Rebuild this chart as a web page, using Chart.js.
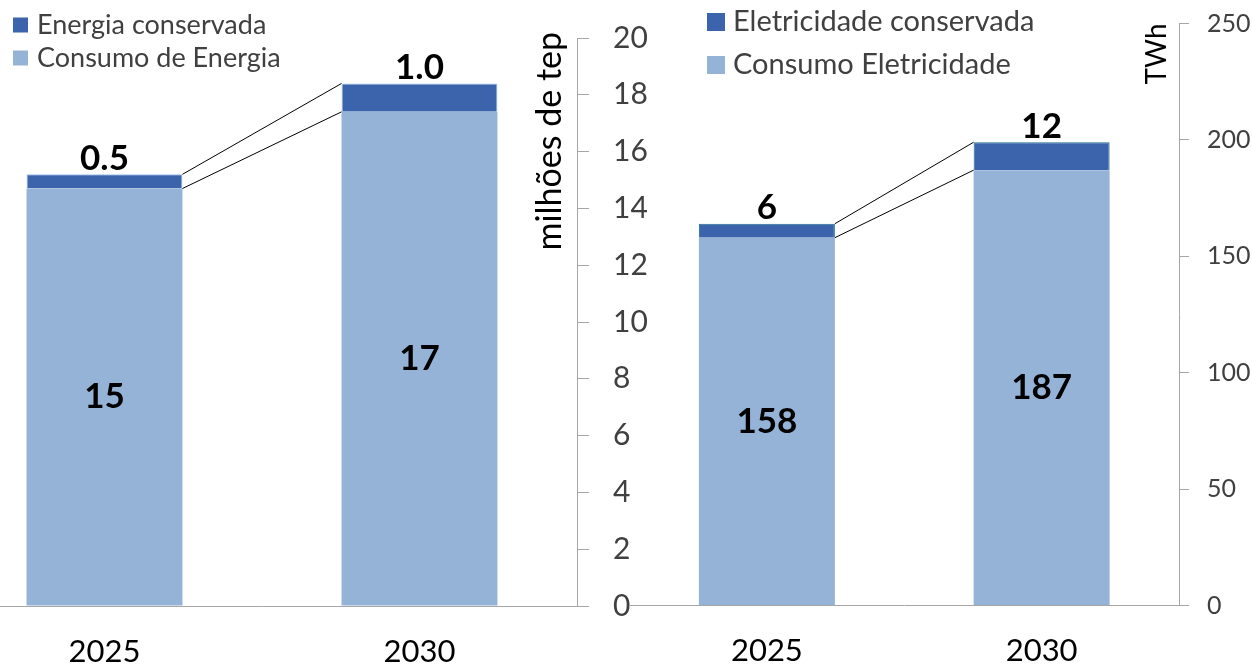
<!DOCTYPE html>
<html>
<head>
<meta charset="utf-8">
<script src="https://cdn.jsdelivr.net/npm/chart.js@4.4.1/dist/chart.umd.min.js"></script>
<style>
html, body { margin: 0; padding: 0; background: #fff; overflow: hidden; width: 1252px; height: 669px; position: relative; }
.box { position: absolute; top: 0; height: 669px; }
#boxEnergia { left: -53px; width: 700px; }
#boxEletricidade { left: 600px; width: 652px; }
</style>
</head>
<body>
<div class="box" id="boxEnergia"><canvas id="energia"></canvas></div>
<div class="box" id="boxEletricidade"><canvas id="eletricidade"></canvas></div>
<script>
'use strict';

// anos
const anos = ['2025', '2030'];

// energia (milhões de tep)
const consumoEnergia = [14.7, 17.4];
const energiaConservada = [0.5, 1.0];
const ticksEnergia = [0, 2, 4, 6, 8, 10, 12, 14, 16, 18, 20];

// eletricidade (TWh)
const consumoEletricidade = [158, 187];
const eletricidadeConservada = [6, 12];
const ticksEletricidade = [0, 50, 100, 150, 200, 250];

const AZUL_CLARO = '#95B3D7';
const AZUL_ESCURO = '#3C64AC';
const CINZA_EIXO = '#A6A6A6';
const FONTE = 'Lato, sans-serif';

/**
 * Linhas de série: ligam o topo de cada segmento entre as barras
 */
const linhasSerie = {
    id: 'linhasSerie',
    afterDatasetsDraw(chart) {
        const ctx = chart.ctx;
        ctx.save();
        ctx.strokeStyle = '#000';
        ctx.lineWidth = 1;
        chart.data.datasets.forEach((ds, i) => {
            const bars = chart.getDatasetMeta(i).data;
            for (let j = 0; j < bars.length - 1; j++) {
                const a = bars[j];
                const b = bars[j + 1];
                ctx.beginPath();
                ctx.moveTo(a.x + a.width / 2, a.y);
                ctx.lineTo(b.x - b.width / 2, b.y);
                ctx.stroke();
            }
        });
        ctx.restore();
    }
};

/**
 * Rótulos de valor: consumo no meio da barra, conservada em cima
 */
const rotulos = {
    id: 'rotulos',
    afterDatasetsDraw(chart, args, opts) {
        const ctx = chart.ctx;
        ctx.save();
        ctx.font = 'bold 35px ' + FONTE;
        ctx.fillStyle = '#000';
        ctx.textAlign = 'center';
        ctx.textBaseline = 'middle';
        chart.data.datasets.forEach((ds, i) => {
            chart.getDatasetMeta(i).data.forEach((bar, j) => {
                let txt = ds.formato(ds.data[j]);
                let y = i === 0 ? (bar.y + bar.base) / 2 : bar.y - opts.acima;
                ctx.fillText(txt, bar.x, y);
            });
        });
        ctx.restore();
    }
};

/**
 * Legenda desenhada no canvas (série de cima primeiro)
 */
const legenda = {
    id: 'legenda',
    afterDraw(chart, args, opts) {
        const ctx = chart.ctx;
        ctx.save();
        ctx.font = opts.fonte + 'px ' + FONTE;
        ctx.textBaseline = 'middle';
        ctx.textAlign = 'left';
        let ds = chart.data.datasets.slice().reverse();
        ds.forEach((d, k) => {
            let y = opts.y + k * opts.passo;
            ctx.fillStyle = d.backgroundColor;
            ctx.fillRect(opts.x, y - opts.lado / 2, opts.lado, opts.lado);
            ctx.fillStyle = '#404040';
            ctx.fillText(d.label, opts.x + opts.lado + opts.gap, y);
        });
        ctx.restore();
    }
};

/**
 * Título do eixo, rodado, à esquerda da linha do eixo
 */
const tituloEixo = {
    id: 'tituloEixo',
    afterDraw(chart, args, opts) {
        const ctx = chart.ctx;
        const eixo = chart.scales.y;
        ctx.save();
        ctx.font = opts.fonte + 'px ' + FONTE;
        ctx.fillStyle = '#000';
        ctx.translate(eixo.left - opts.dx, chart.chartArea.top + opts.dy);
        ctx.rotate(-Math.PI / 2);
        ctx.textAlign = 'right';
        ctx.textBaseline = 'middle';
        ctx.fillText(opts.texto, 0, 0);
        ctx.restore();
    }
};

function criarGrafico(id, cfg) {
    const ctx = document.getElementById(id).getContext('2d');
    return new Chart(ctx, {
        type: 'bar',
        data: {
            labels: anos,
            datasets: [
                {
                    label: cfg.nomes[0],
                    data: cfg.consumo,
                    backgroundColor: AZUL_CLARO,
                    borderWidth: 0,
                    formato: v => Math.round(v).toString()
                },
                {
                    label: cfg.nomes[1],
                    data: cfg.conservada,
                    backgroundColor: AZUL_ESCURO,
                    borderColor: cfg.bordaEscura,
                    borderWidth: 1,
                    formato: cfg.formatoConservada
                }
            ]
        },
        options: {
            responsive: true,
            maintainAspectRatio: false,
            animation: false,
            categoryPercentage: 1,
            barPercentage: 0.495,
            layout: { padding: cfg.padding },
            scales: {
                x: {
                    stacked: true,
                    grid: { display: false, drawTicks: false },
                    border: { color: CINZA_EIXO, width: 1 },
                    ticks: { color: '#000', font: { family: FONTE, size: 31 }, padding: 27 },
                    afterFit: s => {
                        s.height = cfg.alturaX;
                        s.paddingLeft = 0;
                        s.paddingRight = 0;
                    }
                },
                y: {
                    position: 'right',
                    stacked: true,
                    min: 0,
                    max: cfg.ticks[cfg.ticks.length - 1],
                    grid: { drawOnChartArea: false, tickLength: cfg.tickLen, color: CINZA_EIXO },
                    border: { color: CINZA_EIXO, width: 1 },
                    ticks: { color: '#404040', font: { family: FONTE, size: cfg.fonteTicks }, padding: cfg.padTicks },
                    afterBuildTicks: s => { s.ticks = cfg.ticks.map(v => ({ value: v })); },
                    afterFit: s => {
                        s.width = cfg.larguraY;
                        s.paddingTop = 0;
                        s.paddingBottom = 0;
                    }
                }
            },
            plugins: {
                legend: { display: false },
                tooltip: { enabled: false },
                rotulos: { acima: 16 },
                legenda: cfg.legenda,
                tituloEixo: cfg.titulo
            }
        },
        plugins: [linhasSerie, rotulos, legenda, tituloEixo]
    });
}

criarGrafico('energia', {
    nomes: ['Consumo de Energia', 'Energia conservada'],
    consumo: consumoEnergia,
    conservada: energiaConservada,
    ticks: ticksEnergia,
    bordaEscura: '#9DC3E6',
    formatoConservada: v => v.toFixed(1),
    padding: { top: 38, left: 0, right: 0, bottom: 0 },
    alturaX: 63,
    larguraY: 70,
    tickLen: 12,
    fonteTicks: 30,
    padTicks: 24,
    legenda: { x: 66, y: 25, passo: 33, lado: 15, gap: 9, fonte: 27 },
    titulo: { texto: 'milhões de tep', dx: 27, dy: -6, fonte: 34 }
});

criarGrafico('eletricidade', {
    nomes: ['Consumo Eletricidade', 'Eletricidade conservada'],
    consumo: consumoEletricidade,
    conservada: eletricidadeConservada,
    ticks: ticksEletricidade,
    bordaEscura: '#1F6E8C',
    formatoConservada: v => Math.round(v).toString(),
    padding: { top: 23.5, left: 29.5, right: 0, bottom: 0 },
    alturaX: 63.5,
    larguraY: 73,
    tickLen: 10,
    fonteTicks: 25,
    padTicks: 18,
    legenda: { x: 107, y: 22, passo: 43, lado: 18, gap: 8, fonte: 29 },
    titulo: { texto: 'TWh', dx: 22, dy: 0, fonte: 28 }
});
</script>
</body>
</html>
